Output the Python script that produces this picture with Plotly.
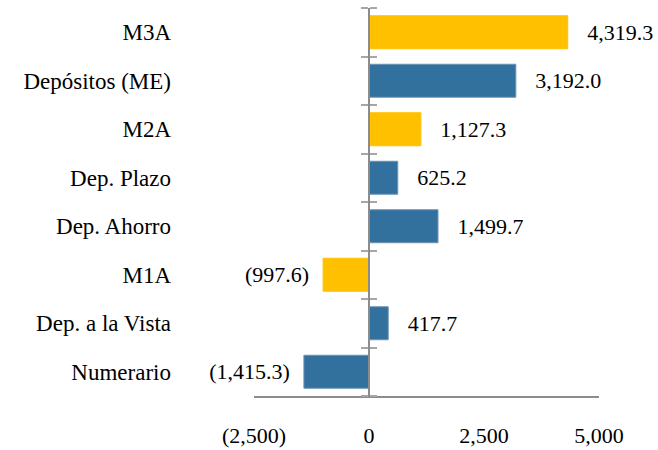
import plotly.graph_objects as go

categories = ["M3A", "Depósitos (ME)", "M2A", "Dep. Plazo", "Dep. Ahorro",
              "M1A", "Dep. a la Vista", "Numerario"]
values = [4319.3, 3192.0, 1127.3, 625.2, 1499.7, -997.6, 417.7, -1415.3]
is_aggregate = [True, False, True, False, False, True, False, False]
tick_vals = [-2500, 0, 2500, 5000]
tick_text = ["(2,500)", "0", "2,500", "5,000"]

YELLOW = "#FFC000"
BLUE = "#32709E"
GREY = "#8C8C8C"
FONT = "Liberation Serif"
SIZE = 22


def fmt(v):
    s = f"{abs(v):,.1f}"
    return f"({s})  " if v < 0 else f"   {s}"


colors = [YELLOW if a else BLUE for a in is_aggregate]
lines = ["#FFC000" if a else "#6E93B4" for a in is_aggregate]

fig = go.Figure()
fig.add_trace(go.Bar(
    x=values, y=categories, orientation="h",
    marker=dict(color=colors, line=dict(color=lines, width=1)),
    text=[fmt(v) for v in values], textposition="outside",
    textfont=dict(family=FONT, size=SIZE, color="black"),
    cliponaxis=False, width=0.68, showlegend=False,
))
fig.add_trace(go.Bar(x=[None] * len(categories), y=categories, orientation="h",
                     yaxis="y2", showlegend=False, hoverinfo="skip"))
fig.add_trace(go.Bar(x=[None] * len(categories), y=categories, orientation="h",
                     yaxis="y3", showlegend=False, hoverinfo="skip"))

zero_pos = (0 - (-2500)) / (5000 - (-2500))

fig.update_layout(
    width=658, height=450,
    margin=dict(l=254, r=59, t=8, b=54, autoexpand=False),
    plot_bgcolor="white", paper_bgcolor="white",
    font=dict(family=FONT, size=SIZE, color="black"),
    xaxis=dict(range=[-2500, 5000], tickvals=tick_vals, ticktext=tick_text,
               anchor="y", side="bottom", automargin=False,
               showline=True, linecolor=GREY, linewidth=2, showgrid=False,
               zeroline=False, ticks="", ticklabelstandoff=19,
               tickfont=dict(family=FONT, size=SIZE)),
    yaxis=dict(categoryorder="array", categoryarray=categories[::-1],
               automargin=False,
               showline=False, showgrid=False, ticks="",
               ticklabelstandoff=82, tickfont=dict(family=FONT, size=23)),
    yaxis2=dict(overlaying="y", anchor="free", position=zero_pos, side="left",
                automargin=False,
                categoryorder="array", categoryarray=categories[::-1],
                showline=True, linecolor=GREY, linewidth=2, showgrid=False,
                ticks="outside", tickson="boundaries", ticklen=7, tickwidth=2,
                tickcolor="#A6A6A6", showticklabels=False),
    yaxis3=dict(overlaying="y", anchor="free", position=zero_pos, side="right",
                automargin=False,
                categoryorder="array", categoryarray=categories[::-1],
                showline=False, showgrid=False,
                ticks="outside", tickson="boundaries", ticklen=7, tickwidth=2,
                tickcolor="#A6A6A6", showticklabels=False),
)

fig.write_html("out.html",
               config={"displayModeBar": False},
               post_script="document.body.style.margin='0';"
                           "document.body.style.overflow='hidden';")
